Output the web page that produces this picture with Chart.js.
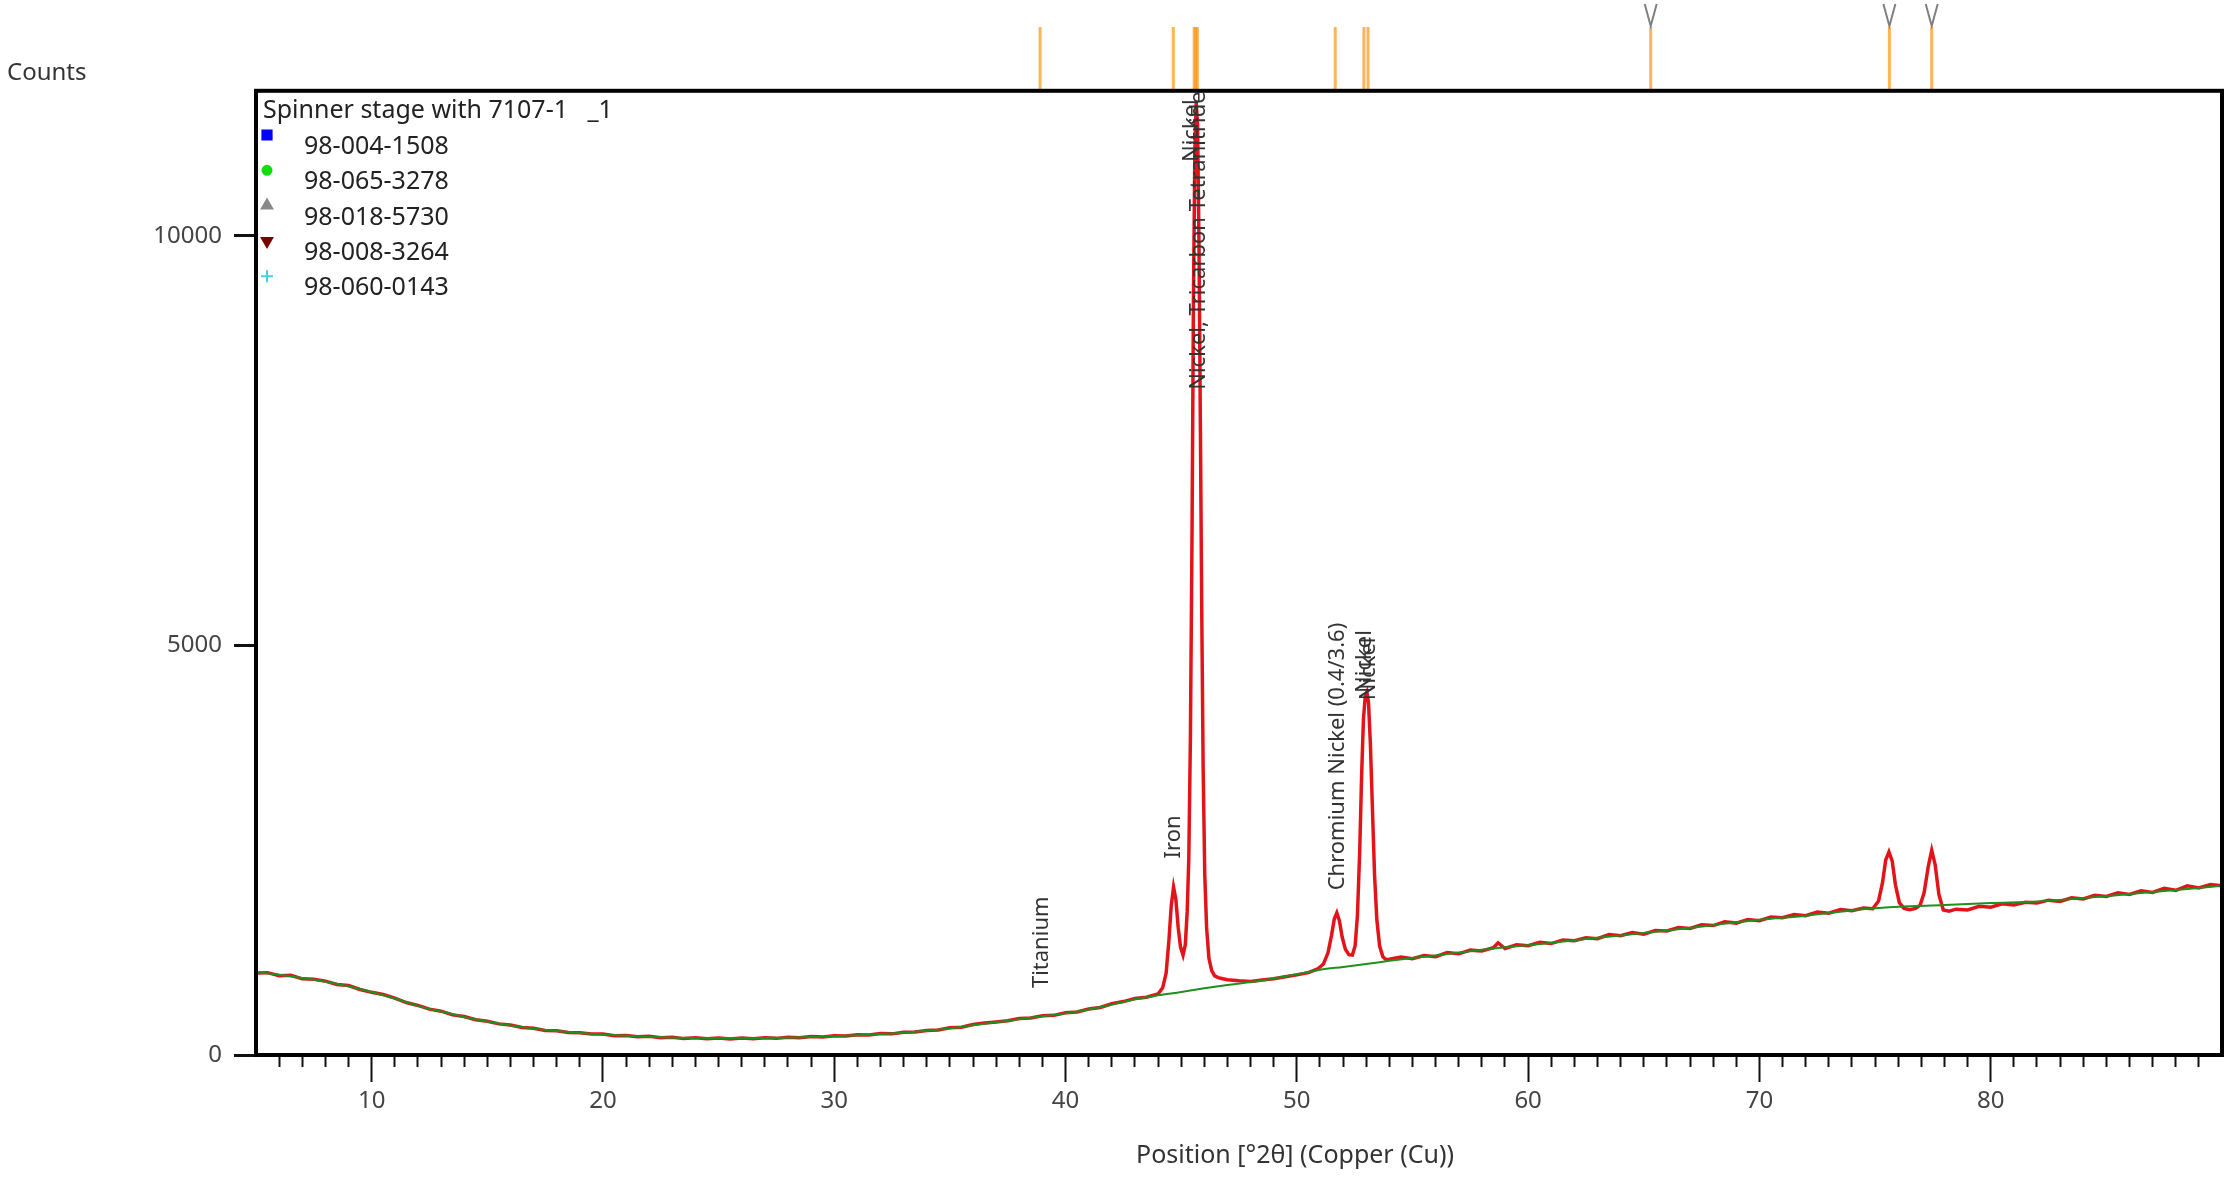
<!DOCTYPE html>
<html>
<head>
<meta charset="utf-8">
<script src="https://cdn.jsdelivr.net/npm/chart.js@4.4.1/dist/chart.umd.min.js"></script>
<style>
  html, body { margin: 0; padding: 0; background: #fff; }
  canvas { display: block; }
</style>
</head>
<body>
<canvas id="xrdChart" width="2231" height="1180"></canvas>
<script>
// observed pattern (red)
const obsX = [
  5.0, 5.5, 6.0, 6.5, 7.0, 7.5, 8.0, 8.5, 9.0, 9.5, 10.0, 10.5, 11.0, 11.5, 12.0, 12.5, 13.0, 13.5, 14.0, 14.5,
  15.0, 15.5, 16.0, 16.5, 17.0, 17.5, 18.0, 18.5, 19.0, 19.5, 20.0, 20.5, 21.0, 21.5, 22.0, 22.5, 23.0, 23.5, 24.0, 24.5,
  25.0, 25.5, 26.0, 26.5, 27.0, 27.5, 28.0, 28.5, 29.0, 29.5, 30.0, 30.5, 31.0, 31.5, 32.0, 32.5, 33.0, 33.5, 34.0, 34.5,
  35.0, 35.5, 36.0, 36.5, 37.0, 37.5, 38.0, 38.5, 39.0, 39.5, 40.0, 40.5, 41.0, 41.5, 42.0, 42.5, 43.0, 43.5, 44.0,
  44.2, 44.35, 44.47, 44.57, 44.67, 44.77, 44.87, 44.97, 45.08, 45.18, 45.26, 45.33, 45.40, 45.47, 45.53, 45.59, 45.65,
  45.71, 45.77, 45.83, 45.89, 45.95, 46.02, 46.10, 46.20, 46.32, 46.45, 46.6, 46.8, 47.0, 47.5, 48.0, 48.5, 49.0, 49.5,
  50.0, 50.5, 50.9, 51.15, 51.35, 51.5, 51.62, 51.73, 51.84, 51.96, 52.1, 52.25, 52.4, 52.52, 52.62, 52.72, 52.8, 52.88,
  52.96, 53.03, 53.1, 53.18, 53.27, 53.36, 53.46, 53.58, 53.72, 53.86, 54.0, 54.5, 55.0, 55.5, 56.0, 56.5, 57.0, 57.5,
  58.0, 58.5, 58.7, 59.0, 59.5, 60.0, 60.5, 61.0, 61.5, 62.0, 62.5, 63.0, 63.5, 64.0, 64.5, 65.0, 65.5, 66.0, 66.5, 67.0,
  67.5, 68.0, 68.5, 69.0, 69.5, 70.0, 70.5, 71.0, 71.5, 72.0, 72.5, 73.0, 73.5, 74.0, 74.5, 74.9, 75.15, 75.32, 75.46,
  75.6, 75.74, 75.88, 76.05, 76.25, 76.5, 76.75, 76.95, 77.12, 77.3, 77.45, 77.6, 77.76, 77.95, 78.2, 78.5, 79.0, 79.5,
  80.0, 80.5, 81.0, 81.5, 82.0, 82.5, 83.0, 83.5, 84.0, 84.5, 85.0, 85.5, 86.0, 86.5, 87.0, 87.5, 88.0, 88.5, 89.0, 89.5, 90.0
];
const obsCounts = [
  1000, 1005, 968, 972, 930, 925, 902, 860, 848, 800, 765, 738, 695, 640, 605, 560, 535, 490, 470, 430,
  412, 380, 365, 335, 326, 300, 297, 275, 272, 255, 256, 236, 238, 222, 228, 210, 216, 200, 210, 198,
  207, 196, 207, 199, 210, 203, 218, 210, 226, 220, 236, 232, 248, 245, 262, 258, 278, 280, 300, 305,
  332, 338, 372, 392, 404, 418, 446, 452, 480, 484, 515, 525, 562, 580, 625, 652, 690, 705, 745,
  820, 1000, 1400, 1820, 2050, 1900, 1560, 1320, 1220, 1350, 1750, 2400, 3900, 6400, 9200, 11000, 11620,
  11350, 9900, 7700, 5400, 3500, 2200, 1550, 1180, 1030, 965, 945, 930, 918, 905, 898, 915, 930, 955,
  978, 1005, 1050, 1110, 1250, 1460, 1660, 1735, 1640, 1440, 1290, 1225, 1220, 1330, 1700, 2500, 3400, 4100,
  4380, 4430, 4300, 3800, 3000, 2200, 1650, 1330, 1200, 1165, 1170, 1195, 1175, 1215, 1200, 1250, 1235, 1280,
  1270, 1310, 1370, 1300, 1345, 1335, 1375, 1360, 1405, 1395, 1430, 1420, 1470, 1455, 1495, 1475, 1520, 1515, 1555, 1545,
  1590, 1580, 1625, 1610, 1655, 1640, 1685, 1675, 1715, 1700, 1745, 1730, 1775, 1760, 1795, 1785, 1880, 2100, 2380,
  2480, 2370, 2080, 1860, 1790, 1775, 1790, 1830, 1980, 2300, 2500, 2320, 1960, 1770, 1755, 1780, 1770, 1815,
  1805, 1845, 1830, 1865, 1855, 1890, 1875, 1920, 1905, 1950, 1935, 1980, 1960, 2005, 1985, 2035, 2010, 2065, 2040, 2080, 2065
];

// fitted background (green)
const bgX = [5, 6, 7, 8, 9, 10, 11, 12, 13, 14, 15, 16, 17, 18, 19, 20, 21, 22, 23, 24, 25, 26, 27, 28, 29, 30,
  31, 32, 33, 34, 35, 36, 37, 38, 39, 40, 41, 42, 43, 44, 45, 46, 47, 48, 49, 50, 51, 52, 53, 54, 55, 56, 57, 58,
  59, 60, 62, 64, 66, 68, 70, 72, 74, 75, 76, 78, 80, 82, 84, 86, 88, 90];
const bgCounts = [1010, 980, 940, 895, 840, 770, 690, 600, 530, 465, 408, 360, 322, 292, 268, 250, 234, 222, 212, 206, 203, 203, 206, 212, 220, 230,
  242, 256, 272, 295, 325, 362, 400, 438, 472, 508, 555, 615, 680, 728, 770, 815, 855, 890, 935, 985, 1040, 1075, 1110, 1150, 1185, 1215, 1250, 1285,
  1315, 1340, 1400, 1460, 1520, 1585, 1650, 1700, 1765, 1790, 1810, 1830, 1855, 1875, 1915, 1965, 2015, 2065];

// reference line positions above the plot
const refLinePos = [38.9, 44.66, 45.56, 45.63, 45.7, 51.66, 52.9, 53.08, 65.3, 75.62, 77.45];
const markedRefPos = [65.3, 75.62, 77.45];

// peak labels: text, position, count at the foot of the text
const peakNames = ["Titanium", "Iron", "Nickel, Tricarbon Tetranitride", "Nickel", "Chromium Nickel (0.4/3.6)", "Nickel", "Nickel"];
const peakX = [38.97, 44.69, 45.76, 45.47, 51.76, 52.95, 53.12];
const peakY = [817, 2400, 8120, 10900, 2010, 4420, 4330];

const sampleName = "Spinner stage with 7107-1   _1";
const phaseCodes = ["98-004-1508", "98-065-3278", "98-018-5730", "98-008-3264", "98-060-0143"];

const xTickValues = [10, 20, 30, 40, 50, 60, 70, 80];
const yTickValues = [0, 5000, 10000];
const xTitle = "Position [°2θ] (Copper (Cu))";

const phaseStyles = [
  { pointStyle: "rect", radius: 6.5, color: "#0000ff" },
  { pointStyle: "circle", radius: 4.5, color: "#11dd11" },
  { pointStyle: "triangle", radius: 6, color: "#888888" },
  { pointStyle: "triangle", radius: 6, rotation: 180, color: "#7a0000" },
  { pointStyle: "cross", radius: 6, color: "#44d0e0" }
];

Chart.defaults.font.family = "'Noto Sans', sans-serif";
Chart.defaults.color = "#444";

const extras = {
  id: "extras",
  afterDraw(chart) {
    const { ctx, chartArea: area } = chart;
    const xs = chart.scales.x;
    const ys = chart.scales.y;
    ctx.save();

    // reference lines above the frame
    ctx.strokeStyle = "rgba(255,140,0,0.65)";
    ctx.lineWidth = 3;
    refLinePos.forEach((p) => {
      const px = xs.getPixelForValue(p);
      ctx.beginPath();
      ctx.moveTo(px, 27);
      ctx.lineTo(px, area.top);
      ctx.stroke();
    });
    ctx.strokeStyle = "#808080";
    ctx.lineWidth = 2;
    markedRefPos.forEach((p) => {
      const px = xs.getPixelForValue(p);
      ctx.beginPath();
      ctx.moveTo(px - 6, 4);
      ctx.lineTo(px, 26);
      ctx.lineTo(px + 6, 4);
      ctx.stroke();
    });

    // peak labels
    ctx.fillStyle = "#333";
    ctx.font = "22px 'Noto Sans'";
    ctx.textAlign = "left";
    ctx.textBaseline = "middle";
    peakNames.forEach((name, i) => {
      ctx.save();
      ctx.translate(xs.getPixelForValue(peakX[i]), ys.getPixelForValue(peakY[i]));
      ctx.rotate(-Math.PI / 2);
      ctx.fillText(name, 0, 0);
      ctx.restore();
    });

    // legend block
    ctx.fillStyle = "#222";
    ctx.font = "25px 'Noto Sans'";
    ctx.fillText(sampleName, area.left + 7, 111);
    phaseCodes.forEach((code, i) => {
      const st = phaseStyles[i];
      const rowY = 147 + i * 35.3;
      ctx.fillStyle = st.color;
      ctx.strokeStyle = st.color;
      Chart.helpers.drawPoint(ctx, {
        pointStyle: st.pointStyle,
        radius: st.radius,
        rotation: st.rotation || 0,
        borderWidth: st.pointStyle === "cross" ? 1.5 : 0.5
      }, area.left + 11, rowY - 12);
      ctx.fillStyle = "#222";
      ctx.fillText(code, area.left + 48, rowY);
    });

    // x axis title, sits a little right of centre in the original
    ctx.fillStyle = "#333";
    ctx.textAlign = "center";
    ctx.fillText(xTitle, (area.left + area.right) / 2 + 56, 1156);

    // frame
    ctx.strokeStyle = "#000";
    ctx.lineWidth = 4;
    ctx.strokeRect(area.left, area.top, area.right - area.left, area.bottom - area.top);
    ctx.restore();
  }
};

new Chart(document.getElementById("xrdChart"), {
  type: "line",
  data: {
    datasets: [
      {
        label: "Background",
        data: bgX.map((x, i) => ({ x, y: bgCounts[i] })),
        borderColor: "#1f8f1f",
        borderWidth: 2,
        pointRadius: 0,
        cubicInterpolationMode: "monotone",
        tension: 0.4
      },
      {
        label: "Observed",
        data: obsX.map((x, i) => ({ x, y: obsCounts[i] })),
        borderColor: "#e2141a",
        borderWidth: 3.5,
        pointRadius: 0,
        tension: 0
      }
    ]
  },
  options: {
    responsive: false,
    animation: false,
    devicePixelRatio: 1,
    layout: { padding: { left: 7, right: 9, top: 0, bottom: 0 } },
    plugins: {
      legend: { display: false },
      tooltip: { enabled: false },
      title: {
        display: true,
        text: "Counts",
        align: "start",
        color: "#333",
        font: { size: 24, weight: "normal" },
        padding: { top: 59, bottom: 3 }
      }
    },
    scales: {
      x: {
        type: "linear",
        min: 5,
        max: 90,
        border: { display: false },
        grid: {
          drawOnChartArea: false,
          drawTicks: true,
          tickLength: 27,
          tickWidth: 2,
          tickColor: "#111",
          tickBorderDash: (c) => (xTickValues.includes(c.tick && c.tick.value) ? [] : [12, 60])
        },
        afterBuildTicks: (scale) => {
          const t = [];
          for (let v = 6; v <= 89; v++) t.push({ value: v });
          scale.ticks = t;
        },
        afterFit: (scale) => { scale.height = 125; },
        ticks: {
          autoSkip: false,
          maxRotation: 0,
          padding: 5,
          color: "#444",
          font: { size: 24 },
          callback: (v) => (xTickValues.includes(v) ? String(v) : "")
        }
      },
      y: {
        type: "linear",
        min: 0,
        max: 11770,
        border: { display: false },
        grid: {
          drawOnChartArea: false,
          drawTicks: true,
          tickLength: 22,
          tickWidth: 3,
          tickColor: "#111"
        },
        afterBuildTicks: (scale) => {
          scale.ticks = yTickValues.map((v) => ({ value: v }));
        },
        afterFit: (scale) => { scale.width = 249; },
        ticks: {
          padding: 12,
          color: "#444",
          font: { size: 24 },
          callback: (v) => String(v)
        }
      }
    }
  },
  plugins: [extras]
});
</script>
</body>
</html>
